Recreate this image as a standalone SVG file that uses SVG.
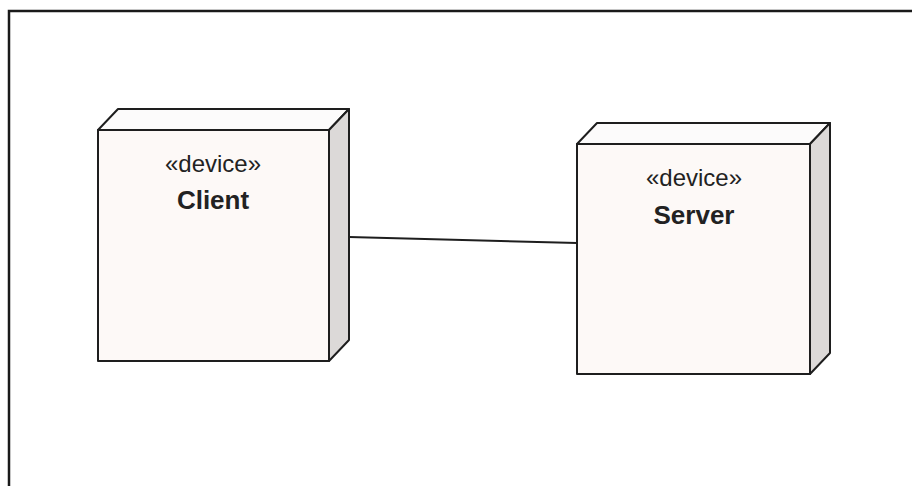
<svg xmlns="http://www.w3.org/2000/svg" width="912" height="486" viewBox="0 0 912 486">
<style>
.front{fill:#fdf9f7;stroke:#1e1e1e;stroke-width:2;stroke-linejoin:round}
.top{fill:#fcfbfb;stroke:#1e1e1e;stroke-width:2;stroke-linejoin:round}
.side{fill:#dcd9d8;stroke:#1e1e1e;stroke-width:2;stroke-linejoin:round}
.st{font-family:"Liberation Sans",Arial,sans-serif;font-size:24px;fill:#222;text-anchor:middle}
.nm{font-family:"Liberation Sans",Arial,sans-serif;font-size:26px;font-weight:bold;fill:#222;text-anchor:middle}
.conn{stroke:#1e1e1e;stroke-width:2;fill:none}
</style>
<rect x="0" y="0" width="912" height="486" fill="#ffffff"/>
<path d="M9,486 V11 H912" fill="none" stroke="#1a1a1a" stroke-width="2.5"/>
<g id="connectors">
<line class="conn" x1="349" y1="237" x2="577" y2="243"/>
</g>
<g id="client">
<polygon class="top" points="98,130 118,109 349,109 329,130"/>
<polygon class="side" points="329,130 349,109 349,340 329,361"/>
<rect class="front" x="98" y="130" width="231" height="231"/>
<text class="st" x="213" y="172">«device»</text>
<text class="nm" x="213" y="209">Client</text>
</g>
<g id="server">
<polygon class="top" points="577,144 597,123 830,123 810,144"/>
<polygon class="side" points="810,144 830,123 830,353 810,374"/>
<rect class="front" x="577" y="144" width="233" height="230"/>
<text class="st" x="694" y="186">«device»</text>
<text class="nm" x="694" y="224">Server</text>
</g>
</svg>
